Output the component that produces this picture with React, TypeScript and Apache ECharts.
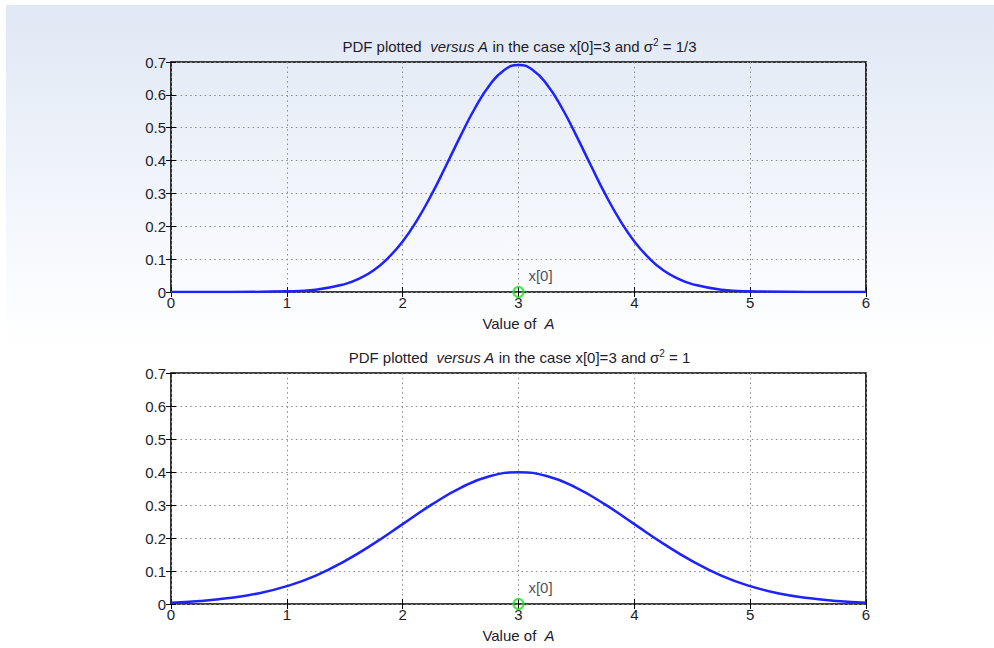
import React, { useEffect, useRef } from "react";
import * as echarts from "echarts";

const aNarrow = [0, 0.5, 1, 1.25, 1.5, 1.625, 1.75, 1.875, 2, 2.125, 2.25, 2.375, 2.5, 2.625, 2.75, 2.875, 3, 3.125, 3.25, 3.375, 3.5, 3.625, 3.75, 3.875, 4, 4.125, 4.25, 4.375, 4.5, 4.75, 5, 5.5, 6];
const pdfNarrow = [0, 0, 0.002, 0.007, 0.024, 0.041, 0.066, 0.104, 0.154, 0.219, 0.297, 0.385, 0.475, 0.56, 0.629, 0.675, 0.691, 0.675, 0.629, 0.56, 0.475, 0.385, 0.297, 0.219, 0.154, 0.104, 0.066, 0.041, 0.024, 0.007, 0.002, 0, 0];
// Lower plot (sigma^2 = 1)
const aWide = [0, 0.25, 0.5, 0.75, 1, 1.25, 1.5, 1.75, 2, 2.25, 2.5, 2.75, 3, 3.25, 3.5, 3.75, 4, 4.25, 4.5, 4.75, 5, 5.25, 5.5, 5.75, 6];
const pdfWide = [0.004, 0.009, 0.018, 0.032, 0.054, 0.086, 0.13, 0.183, 0.242, 0.301, 0.352, 0.387, 0.399, 0.387, 0.352, 0.301, 0.242, 0.183, 0.13, 0.086, 0.054, 0.032, 0.018, 0.009, 0.004];
// observed data point x[0]
const observation = [3, 0];
const titles = ["1/3", "1"];

const FONT = "Liberation Sans, Arial, sans-serif";
const TXT = "#1c1c2c";
const FS = 15;

export default function App() {
  const ref = useRef<HTMLDivElement>(null);
  useEffect(() => {
    if (!ref.current) return;
    const chart = echarts.init(ref.current, null, { renderer: "svg" });
    const grids = [
      { left: 171, top: 62, width: 695, height: 230 },
      { left: 171, top: 373, width: 695, height: 231 },
    ];
    const curves = [
      { xs: aNarrow, ys: pdfNarrow },
      { xs: aWide, ys: pdfWide },
    ];
    const xAxes: any[] = [];
    const yAxes: any[] = [];
    const series: any[] = [];
    const graphics: any[] = [
      {
        type: "rect",
        silent: true,
        z: -100,
        shape: { x: 6, y: 5, width: 988, height: 345 },
        style: {
          fill: new echarts.graphic.LinearGradient(0, 0, 0, 1, [
            { offset: 0, color: "#e0e8f5" },
            { offset: 0.85, color: "#fbfcfe" },
            { offset: 1, color: "#ffffff" },
          ]),
        },
      },
    ];
    const tick = { show: true, inside: true, length: 5, lineStyle: { color: "#000", width: 1 } };
    const split = { show: true, lineStyle: { color: "#8a8a8a", width: 1, type: [1.5, 3.3] } };
    curves.forEach((c, i) => {
      const g = grids[i];
      xAxes.push({
        type: "value", gridIndex: i, min: 0, max: 6, interval: 1, position: "bottom",
        axisLine: { show: false }, axisTick: tick, splitLine: split,
        axisLabel: { color: TXT, fontFamily: FONT, fontSize: FS, margin: 3 },
      });
      xAxes.push({
        type: "value", gridIndex: i, min: 0, max: 6, interval: 1, position: "top",
        axisLine: { show: false }, axisTick: tick, splitLine: { show: false }, axisLabel: { show: false },
      });
      yAxes.push({
        type: "value", gridIndex: i, min: 0, max: 0.7, interval: 0.1, position: "left",
        axisLine: { show: false }, axisTick: tick, splitLine: split,
        axisLabel: { color: TXT, fontFamily: FONT, fontSize: FS, margin: 5, formatter: (v: number) => String(Math.round(v * 10) / 10) },
      });
      yAxes.push({
        type: "value", gridIndex: i, min: 0, max: 0.7, interval: 0.1, position: "right",
        axisLine: { show: false }, axisTick: tick, splitLine: { show: false }, axisLabel: { show: false },
      });
      series.push({
        type: "line", xAxisIndex: i * 2, yAxisIndex: i * 2, showSymbol: false, smooth: 0.5,
        lineStyle: { color: "#1e22ff", width: 2.5 },
        data: c.xs.map((a, k) => [a, c.ys[k]]),
        z: 3,
      });
      series.push({
        type: "scatter", xAxisIndex: i * 2, yAxisIndex: i * 2, symbol: "circle", symbolSize: 10,
        itemStyle: { color: "rgba(0,0,0,0)", borderColor: "#22e022", borderWidth: 2.2 },
        label: { show: true, formatter: "x[0]", position: [16, -18], color: TXT, fontFamily: FONT, fontSize: FS },
        data: [observation],
        z: 5,
      });
      const cx = g.left + g.width / 2;
      graphics.push({
        type: "text", x: cx + 1, y: g.top - 16, silent: true,
        style: {
          text: `{n|PDF plotted  }{i|versus A}{n| in the case x[0]=3 and σ}{s|2}{n| = ${titles[i]}}`,
          align: "center", verticalAlign: "middle",
          rich: {
            n: { fontFamily: FONT, fontSize: FS, fill: TXT, color: TXT },
            i: { fontFamily: FONT, fontSize: FS, fontStyle: "italic", fill: TXT, color: TXT },
            s: { fontFamily: FONT, fontSize: 10, fill: TXT, color: TXT, verticalAlign: "top", padding: [0, 0, 8, 0] },
          },
        },
      });
      graphics.push({
        type: "text", x: cx, y: g.top + g.height + 31, silent: true,
        style: {
          text: "{n|Value of  }{i|A}",
          align: "center", verticalAlign: "middle",
          rich: {
            n: { fontFamily: FONT, fontSize: FS, fill: TXT, color: TXT },
            i: { fontFamily: FONT, fontSize: FS, fontStyle: "italic", fill: TXT, color: TXT },
          },
        },
      });
    });
    chart.setOption({
      animation: false,
      grid: grids.map((g) => ({ ...g, show: true, borderColor: "#000", borderWidth: 1.6, backgroundColor: "transparent", containLabel: false })),
      xAxis: xAxes,
      yAxis: yAxes,
      series,
      graphic: graphics,
    });
    return () => chart.dispose();
  }, []);
  return <div ref={ref} style={{ position: "absolute", left: 0, top: 0, width: 994, height: 648, background: "#fff" }} />;
}
